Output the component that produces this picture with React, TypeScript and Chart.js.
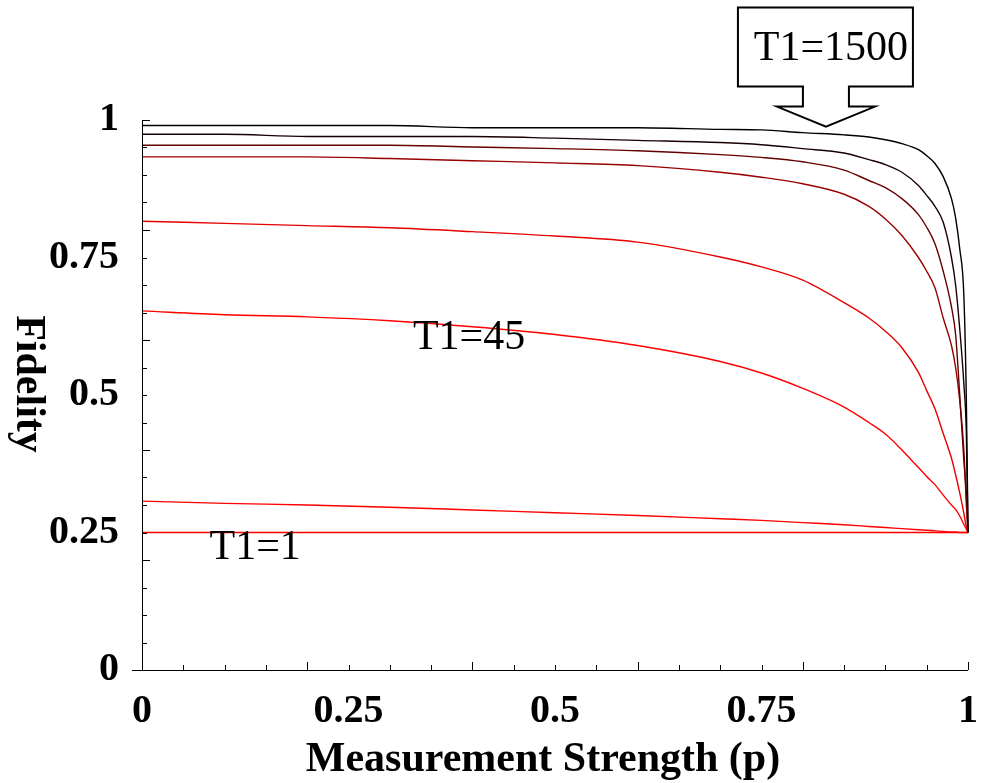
import React, { useEffect, useRef } from "react";
import { Chart, registerables } from "chart.js";

Chart.register(...registerables);

// Measurement strength p (shared x grid)
const P = [0, 0.1, 0.2, 0.3, 0.4, 0.5, 0.6, 0.7, 0.75, 0.8, 0.85, 0.88, 0.9, 0.92, 0.94, 0.95, 0.96, 0.97, 0.98, 0.985, 0.99, 0.995, 0.998, 1];

// Fidelity curves, from largest T1 (T1=1500, black) to T1=1 (red, flat)
const F_T1500 = [0.990, 0.990, 0.990, 0.990, 0.986, 0.986, 0.986, 0.983, 0.982, 0.977, 0.973, 0.969, 0.964, 0.957, 0.946, 0.935, 0.921, 0.897, 0.857, 0.822, 0.766, 0.68, 0.49, 0.25];
const F_C2 = [0.974, 0.974, 0.970, 0.970, 0.970, 0.967, 0.963, 0.959, 0.955, 0.948, 0.940, 0.928, 0.919, 0.905, 0.881, 0.863, 0.843, 0.814, 0.75, 0.70, 0.62, 0.52, 0.43, 0.25];
const F_C3 = [0.954, 0.954, 0.954, 0.954, 0.951, 0.948, 0.944, 0.937, 0.932, 0.924, 0.909, 0.890, 0.877, 0.857, 0.828, 0.805, 0.775, 0.725, 0.66, 0.61, 0.50, 0.38, 0.32, 0.25];
const F_C4 = [0.933, 0.933, 0.933, 0.930, 0.926, 0.922, 0.917, 0.905, 0.896, 0.884, 0.865, 0.843, 0.820, 0.790, 0.750, 0.725, 0.695, 0.640, 0.59, 0.55, 0.49, 0.40, 0.30, 0.25];
const F_C5 = [0.816, 0.812, 0.808, 0.804, 0.797, 0.789, 0.778, 0.751, 0.733, 0.709, 0.668, 0.640, 0.616, 0.586, 0.541, 0.508, 0.475, 0.430, 0.385, 0.355, 0.322, 0.285, 0.26, 0.25];
const F_T45 = [0.653, 0.646, 0.642, 0.635, 0.624, 0.610, 0.590, 0.561, 0.540, 0.512, 0.478, 0.450, 0.429, 0.400, 0.368, 0.352, 0.337, 0.318, 0.300, 0.292, 0.280, 0.265, 0.256, 0.25];
const F_C7 = [0.307, 0.303, 0.300, 0.296, 0.291, 0.286, 0.281, 0.275, 0.272, 0.268, 0.264, 0.261, 0.259, 0.257, 0.255, 0.254, 0.253, 0.252, 0.251, 0.251, 0.250, 0.250, 0.250, 0.25];
const F_T1 = [0.25, 0.25, 0.25, 0.25, 0.25, 0.25, 0.25, 0.25, 0.25, 0.25, 0.25, 0.25, 0.25, 0.25, 0.25, 0.25, 0.25, 0.25, 0.25, 0.25, 0.25, 0.25, 0.25, 0.25];

const SERIES = [F_T1500, F_C2, F_C3, F_C4, F_C5, F_T45, F_C7, F_T1];
const SERIES_COLORS = ["#000000", "#1a0000", "#660000", "#990000", "#e60000", "#ff0000", "#ff0000", "#ff0000"];

// Tick labels
const X_TICK_LABELS = [0, 0.25, 0.5, 0.75, 1];
const Y_TICK_LABELS = [0, 0.25, 0.5, 0.75, 1];
const MINOR_STEP = 0.05;
const MAJOR_STEP = 0.2;

const SERIF = "'Liberation Serif', 'Times New Roman', 'DejaVu Serif', serif";

const decorPlugin = {
  id: "decor",
  afterDraw(chart: any) {
    const ctx = chart.ctx;
    const xs = chart.scales.x;
    const ys = chart.scales.y;
    const left = xs.getPixelForValue(0);
    const right = xs.getPixelForValue(1);
    const bottom = ys.getPixelForValue(0);
    const top = ys.getPixelForValue(1);
    ctx.save();
    ctx.strokeStyle = "#000";
    ctx.lineWidth = 1;
    // axes
    ctx.beginPath();
    ctx.moveTo(left - 10, bottom + 0.5);
    ctx.lineTo(right, bottom + 0.5);
    ctx.moveTo(left + 0.5, bottom);
    ctx.lineTo(left + 0.5, top);
    ctx.stroke();
    // ticks (inward)
    ctx.beginPath();
    for (let i = 0; i <= Math.round(1 / MINOR_STEP); i++) {
      const v = i * MINOR_STEP;
      const major = Math.abs(v / MAJOR_STEP - Math.round(v / MAJOR_STEP)) < 1e-6;
      const len = major ? 8 : 5;
      const px = Math.round(xs.getPixelForValue(v)) + 0.5;
      ctx.moveTo(px, bottom);
      ctx.lineTo(px, bottom - len);
      const py = Math.round(ys.getPixelForValue(v)) + 0.5;
      ctx.moveTo(left, py);
      ctx.lineTo(left + len, py);
    }
    ctx.stroke();

    // axis titles
    ctx.fillStyle = "#000";
    ctx.font = `bold 42px ${SERIF}`;
    ctx.textAlign = "center";
    ctx.textBaseline = "alphabetic";
    ctx.fillText("Measurement Strength (p)", (left + right) / 2 - 12, 771);
    ctx.save();
    ctx.translate(28, 384);
    ctx.rotate(Math.PI / 2);
    ctx.textBaseline = "middle";
    ctx.fillText("Fidelity", 0, 0);
    ctx.restore();

    // curve labels
    ctx.font = `42px ${SERIF}`;
    ctx.textBaseline = "alphabetic";
    ctx.fillText("T1=45", xs.getPixelForValue(0.396), ys.getPixelForValue(0.583));
    ctx.fillText("T1=1", xs.getPixelForValue(0.137), ys.getPixelForValue(0.2024));

    // callout box with arrow for T1=1500
    const tx = xs.getPixelForValue(0.828);
    const ty = ys.getPixelForValue(0.988);
    const L = tx - 88, R = tx + 87, T = ty - 119, B = ty - 40;
    ctx.beginPath();
    ctx.moveTo(L, T);
    ctx.lineTo(R, T);
    ctx.lineTo(R, B);
    ctx.lineTo(tx + 23, B);
    ctx.lineTo(tx + 23, ty - 20);
    ctx.lineTo(tx + 49, ty - 20);
    ctx.lineTo(tx, ty);
    ctx.lineTo(tx - 49, ty - 20);
    ctx.lineTo(tx - 23, ty - 20);
    ctx.lineTo(tx - 23, B);
    ctx.lineTo(L, B);
    ctx.closePath();
    ctx.fillStyle = "#fff";
    ctx.fill();
    ctx.lineWidth = 2;
    ctx.strokeStyle = "#000";
    ctx.stroke();
    ctx.fillStyle = "#000";
    ctx.fillText("T1=1500", tx + 5, ty - 67);
    ctx.restore();
  },
};

export default function App() {
  const canvasRef = useRef<HTMLCanvasElement | null>(null);

  useEffect(() => {
    if (!canvasRef.current) return;
    const datasets = SERIES.map((vals, i) => ({
      label: `curve ${i + 1}`,
      data: P.map((p, j) => ({ x: p, y: vals[j] })),
      borderColor: SERIES_COLORS[i],
      backgroundColor: SERIES_COLORS[i],
      borderWidth: 1.4,
      pointRadius: 0,
      cubicInterpolationMode: "monotone" as const,
      fill: false,
      clip: false as any,
    }));
    const chart = new Chart(canvasRef.current, {
      type: "line",
      data: { datasets },
      options: {
        animation: false,
        responsive: false,
        layout: { padding: { top: 120, right: 16, left: 0, bottom: 0 } },
        plugins: { legend: { display: false }, tooltip: { enabled: false } },
        scales: {
          x: {
            type: "linear",
            min: 0,
            max: 1,
            grid: { display: false },
            border: { display: false },
            afterBuildTicks: (scale: any) => {
              scale.ticks = X_TICK_LABELS.map((v) => ({ value: v }));
            },
            afterFit: (scale: any) => {
              scale.height = 113;
              scale.paddingLeft = 0;
              scale.paddingRight = 0;
            },
            ticks: {
              padding: 10,
              maxRotation: 0,
              autoSkip: false,
              color: "#000",
              font: { family: SERIF, size: 40, weight: "bold" },
              callback: (v: any) => String(v),
            },
          },
          y: {
            type: "linear",
            min: 0,
            max: 1,
            grid: { display: false },
            border: { display: false },
            afterBuildTicks: (scale: any) => {
              scale.ticks = Y_TICK_LABELS.map((v) => ({ value: v }));
            },
            afterFit: (scale: any) => {
              scale.width = 142;
              scale.paddingTop = 0;
              scale.paddingBottom = 0;
            },
            ticks: {
              padding: 15,
              autoSkip: false,
              color: "#000",
              font: { family: SERIF, size: 40, weight: "bold" },
              callback: (v: any) => String(v),
            },
          },
        },
      },
      plugins: [decorPlugin],
    });
    return () => chart.destroy();
  }, []);

  return (
    <div style={{ position: "absolute", left: 0, top: 0, width: 984, height: 783, background: "#fff" }}>
      <canvas ref={canvasRef} width={984} height={783} style={{ width: 984, height: 783 }} />
    </div>
  );
}
